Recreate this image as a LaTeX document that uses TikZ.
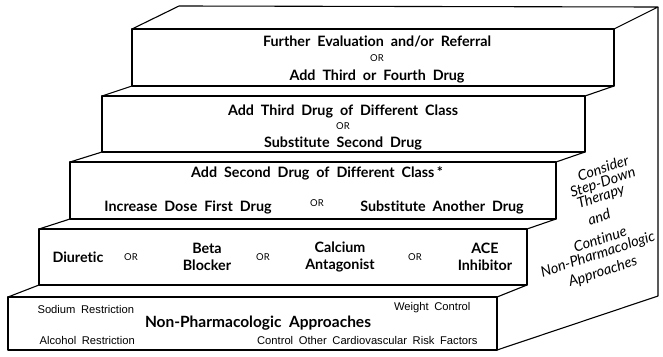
\documentclass[tikz,border=0pt]{standalone}
\usepackage{fontspec}
\setmainfont{Lato}[WordSpace=2, Ligatures=NoCommon]
\newfontfamily\helv{Liberation Sans}[WordSpace=1.8]

\begin{document}
\begin{tikzpicture}[x=1pt, y=-1pt, line width=1.1pt, line join=round,
    steplbl/.style={font=\bfseries\fontsize{14.3}{17}\selectfont, inner sep=0pt, align=center},
    orlbl/.style={font=\fontsize{9.5}{10}\selectfont, inner sep=0pt},
    smalllbl/.style={font=\helv\fontsize{11.2}{12}\selectfont, inner sep=0pt},
    sidelbl/.style={font=\itshape\fontsize{14.5}{15}\selectfont, inner sep=0pt, rotate=18}]
\useasboundingbox (0,0) rectangle (663,356);

\draw (132,29) rectangle (614,86);
\draw (102,96) rectangle (585,152);
\draw (70,162) rectangle (556,219);
\draw (39,229) rectangle (527,285);
\draw (8,297) rectangle (497,350);

\draw (132,29) -- (179,6) -- (658,7) -- (614,29);
\draw (658,7) -- (658,296) -- (497,350);
\draw (132,86) -- (102,96);
\draw (614,86) -- (585,96);
\draw (102,152) -- (70,162);
\draw (585,152) -- (556,162);
\draw (70,219) -- (39,229);
\draw (556,219) -- (527,229);
\draw (39,285) -- (8,297);
\draw (527,285) -- (497,297);

\node[steplbl] (evalref) at (377,42) {Further Evaluation and/or Referral};
\node[orlbl] (or1) at (377,58) {OR};
\node[steplbl] (fourth) at (377,76) {Add Third or Fourth Drug};

\node[steplbl] (third) at (343,111) {Add Third Drug of Different Class};
\node[orlbl] (or2) at (343,126) {OR};
\node[steplbl] (subsec) at (343,143) {Substitute Second Drug};

\node[steplbl] (second) at (317,173) {Add Second Drug of Different Class\,*};
\node[steplbl] (incdose) at (188,207) {Increase Dose First Drug};
\node[orlbl] (or3) at (317,203) {OR};
\node[steplbl] (subanother) at (442,207) {Substitute Another Drug};

\node[steplbl] (diuretic) at (78,257) {Diuretic};
\node[orlbl] (or4a) at (131,257) {OR};
\node[steplbl] (beta) at (207,257) {Beta\\Blocker};
\node[orlbl] (or4b) at (263,257) {OR};
\node[steplbl] (calcium) at (340,257) {Calcium\\Antagonist};
\node[orlbl] (or4c) at (415,257) {OR};
\node[steplbl] (ace) at (485,257) {ACE\\Inhibitor};

\node[smalllbl, anchor=west] (sodium) at (37,309) {Sodium Restriction};
\node[smalllbl, anchor=west] (alcohol) at (39,340) {Alcohol Restriction};
\node[steplbl, font=\bfseries\fontsize{15.5}{17}\selectfont] (nonpharm) at (258,323) {Non-Pharmacologic Approaches};
\node[smalllbl, anchor=east] (weight) at (471,308) {Weight Control};
\node[smalllbl, anchor=east] (cvrisk) at (478,340) {Control Other Cardiovascular Risk Factors};

\node[sidelbl] (consider) at (603,168) {Consider};
\node[sidelbl] (stepdown) at (603,183) {Step-Down};
\node[sidelbl] (therapy) at (601,197) {Therapy};
\node[sidelbl] (andlbl) at (599,217) {and};
\node[sidelbl] (continue) at (600,239) {Continue};
\node[sidelbl] (nonpharm2) at (598,255) {Non-Pharmacologic};
\node[sidelbl] (approaches) at (603,272) {Approaches};
\end{tikzpicture}
\end{document}
